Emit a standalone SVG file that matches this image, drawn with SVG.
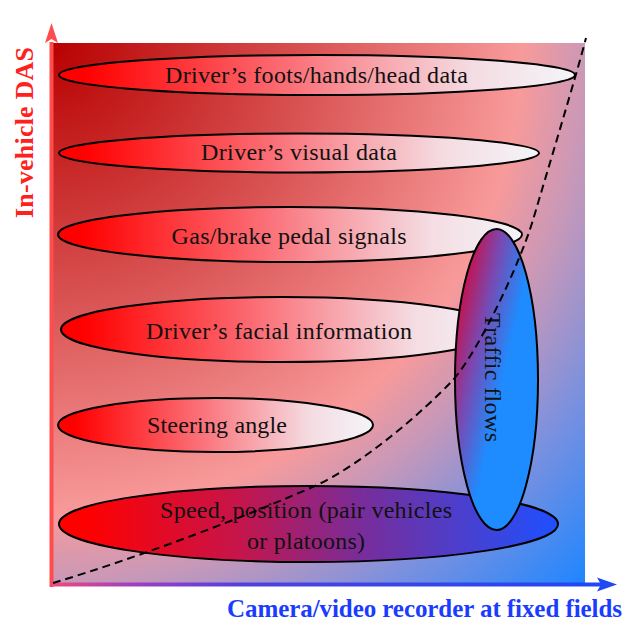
<svg xmlns="http://www.w3.org/2000/svg" width="644" height="640" viewBox="0 0 644 640">
<defs>
<radialGradient id="bg" gradientUnits="userSpaceOnUse" cx="50" cy="43" r="760" fx="50" fy="43">
<stop offset="0" stop-color="#b80000"/>
<stop offset="0.33" stop-color="#d85050"/>
<stop offset="0.62" stop-color="#f89a9a"/>
<stop offset="0.71" stop-color="#c898b8"/>
<stop offset="0.84" stop-color="#7890e0"/>
<stop offset="1" stop-color="#1e86ff"/>
</radialGradient>
<linearGradient id="redwhite" x1="0" y1="0" x2="1" y2="0">
<stop offset="0.05" stop-color="#ff0000"/>
<stop offset="0.45" stop-color="#fb7078"/>
<stop offset="0.8" stop-color="#f4dce2"/>
<stop offset="1" stop-color="#f4f4f8"/>
</linearGradient>
<linearGradient id="redblue" x1="0" y1="0" x2="1" y2="0">
<stop offset="0.05" stop-color="#ff0000"/>
<stop offset="0.35" stop-color="#c81448"/>
<stop offset="0.6" stop-color="#7a2c98"/>
<stop offset="1" stop-color="#1e50ff"/>
</linearGradient>
<linearGradient id="traffic" x1="0.2" y1="0.05" x2="0.65" y2="0.42">
<stop offset="0" stop-color="#c8104a"/>
<stop offset="0.45" stop-color="#7a48b0"/>
<stop offset="1" stop-color="#1e8cff"/>
</linearGradient>
<linearGradient id="haxis" gradientUnits="userSpaceOnUse" x1="50" y1="0" x2="600" y2="0">
<stop offset="0" stop-color="#f04a7a"/>
<stop offset="0.15" stop-color="#a040c0"/>
<stop offset="0.35" stop-color="#5040e0"/>
<stop offset="1" stop-color="#2048f4"/>
</linearGradient>
</defs>
<style>
.ell{stroke:#000;stroke-width:2}
.lbl{font-family:"Liberation Serif","Times New Roman",serif;font-size:24px;fill:#111;text-anchor:middle}
.axl{font-family:"Liberation Serif","Times New Roman",serif;font-weight:bold;text-anchor:middle}
</style>

<rect x="50" y="43" width="535" height="540" fill="url(#bg)"/>

<g id="axes">
<rect x="49.5" y="42" width="4" height="545" fill="#ff4d4d"/>
<polygon points="51.5,23 58,43 51.5,39 45,43" fill="#ff4d4d"/>
<rect x="50" y="582.5" width="552" height="4" fill="url(#haxis)"/>
<polygon points="617,584.5 597,577.5 601,584.5 597,591.5" fill="#2048f4"/>
<text class="axl" transform="translate(33,132.5) rotate(-90)" font-size="26" fill="#ff2020" textLength="171" lengthAdjust="spacing">In-vehicle DAS</text>
<text class="axl" x="424.5" y="617" font-size="25" fill="#1a3cff" textLength="395" lengthAdjust="spacing">Camera/video recorder at fixed fields</text>
</g>

<g id="n1">
<ellipse class="ell" cx="317" cy="75" rx="258" ry="20" fill="url(#redwhite)"/>
<text class="lbl" x="316.5" y="83" textLength="303" lengthAdjust="spacing">Driver’s foots/hands/head data</text>
</g>
<g id="n2">
<ellipse class="ell" cx="299" cy="153" rx="240" ry="19.5" fill="url(#redwhite)"/>
<text class="lbl" x="299" y="160" textLength="196" lengthAdjust="spacing">Driver’s visual data</text>
</g>
<g id="n3">
<ellipse class="ell" cx="290" cy="234.5" rx="232" ry="27.5" fill="url(#redwhite)"/>
<text class="lbl" x="289" y="244" textLength="235" lengthAdjust="spacing">Gas/brake pedal signals</text>
</g>
<g id="n4">
<ellipse class="ell" cx="281.5" cy="329.5" rx="220.5" ry="32.5" fill="url(#redwhite)"/>
<text class="lbl" x="279" y="339" textLength="266" lengthAdjust="spacing">Driver’s facial information</text>
</g>
<g id="n5">
<ellipse class="ell" cx="215.5" cy="425" rx="157.5" ry="27" fill="url(#redwhite)"/>
<text class="lbl" x="217" y="433" textLength="140" lengthAdjust="spacing">Steering angle</text>
</g>
<g id="n6">
<ellipse class="ell" cx="308.5" cy="524" rx="249.5" ry="38" fill="url(#redblue)"/>
<text class="lbl" x="306" y="518" textLength="292" lengthAdjust="spacing">Speed, position (pair vehicles</text>
<text class="lbl" x="306" y="549" textLength="118" lengthAdjust="spacing">or platoons)</text>
</g>
<g id="n7">
<ellipse class="ell" cx="496.5" cy="379.5" rx="41.5" ry="150.5" fill="url(#traffic)"/>
<text class="lbl" transform="translate(485,377.5) rotate(90)" textLength="129" lengthAdjust="spacing">Traffic flows</text>
</g>

<g id="connectors">
<path d="M53,583 C140,557 250,515 317,485 C360,465 420,415 453,380 C480,349 520,263 533,220 C548,169 575,80 586,38" fill="none" stroke="#000" stroke-width="2" stroke-dasharray="8,5"/>
</g>
</svg>
